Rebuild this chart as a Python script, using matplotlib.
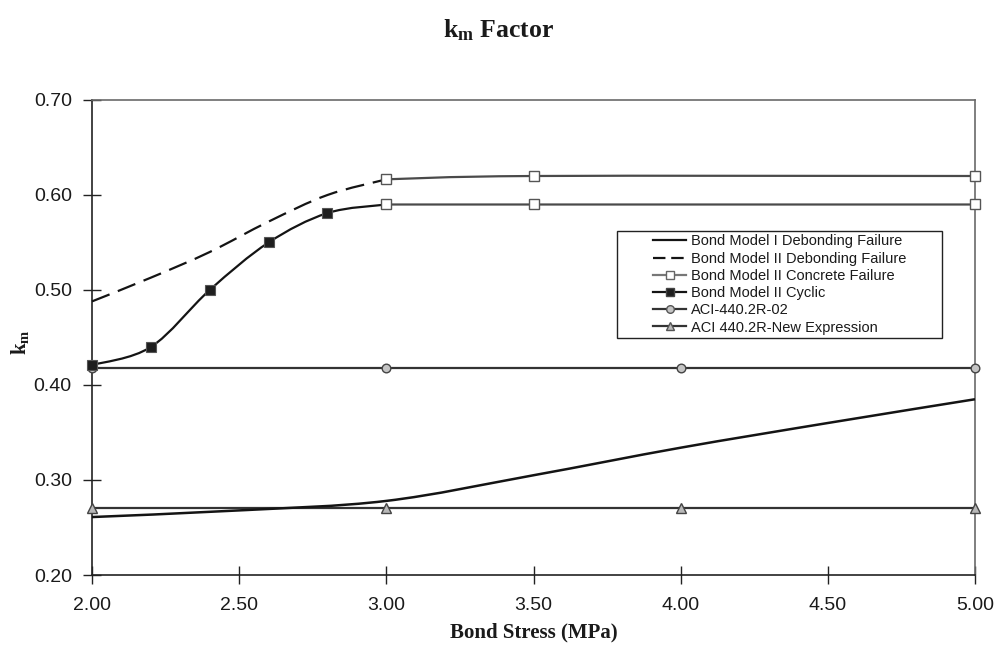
import numpy as np
import matplotlib
matplotlib.use("Agg")
import matplotlib.pyplot as plt
from matplotlib.path import Path
from matplotlib.patches import PathPatch, Rectangle
from matplotlib.lines import Line2D

plt.rcParams['font.family'] = ['Liberation Sans', 'DejaVu Sans']
plt.rcParams['mathtext.fontset'] = 'custom'
plt.rcParams['mathtext.rm'] = 'Liberation Serif'
plt.rcParams['mathtext.it'] = 'Liberation Serif:italic'
plt.rcParams['mathtext.bf'] = 'Liberation Serif:bold'

# ---- data ----
model1_x = [2.0, 2.5, 3.0, 3.5, 4.0, 4.5, 5.0]
model1_y = [0.261, 0.268, 0.278, 0.305, 0.334, 0.360, 0.385]

model2_deb_x = [2.0, 2.2, 2.4, 2.6, 2.8, 3.0]
model2_deb_y = [0.488, 0.513, 0.540, 0.572, 0.600, 0.6165]

conc_upper_x = [3.0, 3.5, 5.0]
conc_upper_y = [0.6165, 0.620, 0.620]
conc_lower_x = [3.0, 3.5, 5.0]
conc_lower_y = [0.590, 0.590, 0.590]

cyclic_x = [2.0, 2.2, 2.4, 2.6, 2.8, 3.0]
cyclic_y = [0.421, 0.440, 0.500, 0.550, 0.581, 0.590]

aci02_x = [2.0, 3.0, 4.0, 5.0]
aci02_y = [0.418, 0.418, 0.418, 0.418]

acinew_x = [2.0, 3.0, 4.0, 5.0]
acinew_y = [0.270, 0.270, 0.270, 0.270]

x_ticks = [2.0, 2.5, 3.0, 3.5, 4.0, 4.5, 5.0]
y_ticks = [0.20, 0.30, 0.40, 0.50, 0.60, 0.70]

labels = ["Bond Model I Debonding Failure",
          "Bond Model II Debonding Failure",
          "Bond Model II Concrete Failure",
          "Bond Model II Cyclic",
          "ACI-440.2R-02",
          "ACI 440.2R-New Expression"]


def smooth_path(xs, ys):
    """Excel-style smoothed line (Catmull-Rom Bezier) through the points."""
    pts = np.column_stack([xs, ys]).astype(float)
    n = len(pts)
    verts = [pts[0]]
    codes = [Path.MOVETO]
    for i in range(n - 1):
        p0 = pts[i - 1] if i > 0 else pts[i]
        p1 = pts[i]
        p2 = pts[i + 1]
        p3 = pts[i + 2] if i + 2 < n else pts[i + 1]
        c1 = p1 + (p2 - p0) / 6.0
        c2 = p2 - (p3 - p1) / 6.0
        verts += [c1, c2, p2]
        codes += [Path.CURVE4] * 3
    return Path(verts, codes)


fig = plt.figure(figsize=(9.96, 6.57), dpi=100)
ax = fig.add_axes([92 / 996, 1 - 575 / 657, (975 - 92) / 996, (575 - 100) / 657])

dark = '#141414'
conc_col = '#4a4a4a'
aci_col = '#333333'

# horizontal ACI lines
ax.plot(aci02_x, aci02_y, color=aci_col, lw=1.6, marker='o', ms=6.2,
        mfc='#c4c4c4', mec='#444444', mew=1.0, clip_on=False, zorder=3)
ax.plot(acinew_x, acinew_y, color=aci_col, lw=1.6, marker='^', ms=6.5,
        mfc='#b8b8b8', mec='#444444', mew=1.0, clip_on=False, zorder=3)

# smoothed curves
ax.add_patch(PathPatch(smooth_path(model1_x, model1_y), fill=False,
                       edgecolor=dark, lw=1.8, zorder=4, clip_on=False))
ax.add_patch(PathPatch(smooth_path(model2_deb_x, model2_deb_y), fill=False,
                       edgecolor=dark, lw=1.6, linestyle=(0, (8.5, 4.0)),
                       capstyle='butt', zorder=4, clip_on=False))
ax.add_patch(PathPatch(smooth_path(cyclic_x, cyclic_y), fill=False,
                       edgecolor=dark, lw=1.6, zorder=4, clip_on=False))
ax.add_patch(PathPatch(smooth_path(conc_upper_x, conc_upper_y), fill=False,
                       edgecolor=conc_col, lw=1.6, zorder=4, clip_on=False))
ax.add_patch(PathPatch(smooth_path(conc_lower_x, conc_lower_y), fill=False,
                       edgecolor=conc_col, lw=1.6, zorder=4, clip_on=False))

# markers
ax.plot(cyclic_x[:-1], cyclic_y[:-1], ls='none', marker='s', ms=6.5,
        mfc='#1e1e1e', mec='#555555', mew=0.8, clip_on=False, zorder=5)
ax.plot(conc_upper_x, conc_upper_y, ls='none', marker='s', ms=6.5,
        mfc='white', mec='#555555', mew=1.0, clip_on=False, zorder=5)
ax.plot(conc_lower_x, conc_lower_y, ls='none', marker='s', ms=6.5,
        mfc='white', mec='#555555', mew=1.0, clip_on=False, zorder=5)

ax.set_xlim(2.0, 5.0)
ax.set_ylim(0.20, 0.70)
ax.set_xticks(x_ticks)
ax.set_xticklabels([f"{v:.2f}" for v in x_ticks])
ax.set_yticks(y_ticks)
ax.set_yticklabels([f"{v:.2f}" for v in y_ticks])
ax.tick_params(axis='both', direction='inout', length=13, width=1.0,
               color='#222222', labelsize=14, labelcolor='#1a1a1a')
ax.tick_params(axis='x', pad=9)
ax.tick_params(axis='y', pad=8)
for s in ['left', 'bottom']:
    ax.spines[s].set_color('#222222')
    ax.spines[s].set_linewidth(1.2)
for s in ['top', 'right']:
    ax.spines[s].set_color('#6a6a6a')
    ax.spines[s].set_linewidth(1.2)
ax.set_facecolor('white')

# legend
handles = [
    Line2D([], [], color=dark, lw=1.6),
    Line2D([], [], color=dark, lw=1.6, linestyle=(0, (5.6, 2.6))),
    Line2D([], [], color='#777777', lw=1.6, marker='s', ms=5.5, mfc='white', mec='#666666'),
    Line2D([], [], color=dark, lw=1.6, marker='s', ms=5.5, mfc='#1e1e1e', mec='#444444'),
    Line2D([], [], color=aci_col, lw=1.6, marker='o', ms=5.5, mfc='#c4c4c4', mec='#555555'),
    Line2D([], [], color=aci_col, lw=1.6, marker='^', ms=5.5, mfc='#b8b8b8', mec='#555555'),
]
leg = ax.legend(handles, labels, loc='center', bbox_to_anchor=(0.7786, 0.6116),
                frameon=False, fontsize=10.5, handlelength=2.3, handletextpad=0.3,
                labelspacing=0.22, borderpad=0.2)
for t in leg.get_texts():
    t.set_color('#1a1a1a')
ax.add_patch(Rectangle((0.5946, 0.499), 0.368, 0.2252, transform=ax.transAxes,
                       fill=False, edgecolor='#222222', lw=1.0, zorder=6))

# titles and labels
fig.text(0.5, 1 - 30 / 657, r'$\mathbf{k_m}$' + ' Factor', ha='center', va='center',
         fontsize=18.5, fontweight='bold', family='Liberation Serif', color='#1a1a1a')
fig.text((92 + 975) / 2 / 996, 1 - 632 / 657, 'Bond Stress (MPa)', ha='center', va='center',
         fontsize=15, fontweight='bold', family='Liberation Serif', color='#1a1a1a')
fig.text(20 / 996, 1 - 342 / 657, r'$\mathbf{k_m}$', ha='center', va='center', rotation=90,
         fontsize=15, color='#1a1a1a')

fig.savefig('out.png', dpi=100, facecolor='white')
